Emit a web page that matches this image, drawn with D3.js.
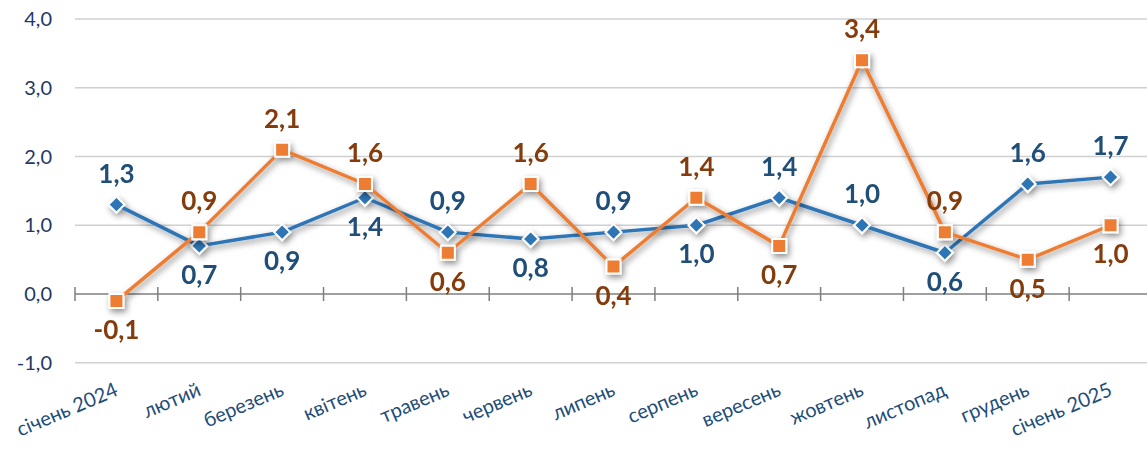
<!DOCTYPE html>
<meta charset="utf-8">
<style>
body { margin: 0; background: #fff; }
svg { font-family: Lato, "Open Sans", sans-serif; }
.grid line { stroke: #d0d0d0; stroke-width: 1.3px; }
.zero { stroke: #7f7f7f; stroke-width: 1.5px; }
.ylab { fill: #1f3864; font-size: 20px; }
.xlab { fill: #1f4e79; font-size: 20px; }
.lblA { fill: #1f4e79; font-size: 26px; font-weight: bold; }
.lblB { fill: #843c0c; font-size: 26px; font-weight: bold; }
</style>
<body>
<script src="https://cdn.jsdelivr.net/npm/d3@7"></script>
<script>
var width = 1147,
    height = 450;

var months = ["січень 2024", "лютий", "березень", "квітень", "травень", "червень",
  "липень", "серпень", "вересень", "жовтень", "листопад", "грудень", "січень 2025"];
var seriesA = [1.3, 0.7, 0.9, 1.4, 0.9, 0.8, 0.9, 1.0, 1.4, 1.0, 0.6, 1.6, 1.7];
var seriesB = [-0.1, 0.9, 2.1, 1.6, 0.6, 1.6, 0.4, 1.4, 0.7, 3.4, 0.9, 0.5, 1.0];
// label above (1) or below (-1) the point
var posA = [1, -1, -1, -1, 1, -1, 1, -1, 1, 1, -1, 1, 1];
var posB = [-1, 1, 1, 1, -1, 1, -1, 1, -1, 1, 1, -1, -1];
var yTicks = [-1, 0, 1, 2, 3, 4];

var fmt = function(v) { return d3.format(".1f")(v).replace(".", ",").replace("−", "-"); };

var x = d3.scaleBand().domain(months).range([75, 1152]);
var y = d3.scaleLinear().domain([-1, 4]).range([362.75, 19]);

var svg = d3.select("body").append("svg")
    .attr("width", width)
    .attr("height", height);

var defs = svg.append("defs");
var f = defs.append("filter").attr("id", "shadow")
    .attr("x", "-50%").attr("y", "-50%").attr("width", "200%").attr("height", "200%");
f.append("feDropShadow")
    .attr("dx", 2).attr("dy", 3).attr("stdDeviation", 3)
    .attr("flood-color", "#000").attr("flood-opacity", 0.45);

// gridlines
svg.append("g").attr("class", "grid")
  .selectAll("line")
  .data(yTicks.filter(function(d) { return d !== 0; }))
  .enter().append("line")
    .attr("x1", 75).attr("x2", width)
    .attr("y1", function(d) { return y(d); })
    .attr("y2", function(d) { return y(d); });

// y labels
svg.append("g").selectAll("text")
  .data(yTicks)
  .enter().append("text")
    .attr("class", "ylab")
    .attr("x", 52)
    .attr("y", function(d) { return y(d); })
    .attr("dy", "0.35em")
    .attr("text-anchor", "end")
    .text(fmt);

// zero axis with cross ticks
svg.append("line").attr("class", "zero")
    .attr("x1", 75).attr("x2", width)
    .attr("y1", y(0)).attr("y2", y(0));
var bounds = months.map(function(m) { return x(m); });
svg.append("g").selectAll("line")
  .data(bounds)
  .enter().append("line")
    .attr("class", "zero")
    .attr("x1", function(d) { return d; }).attr("x2", function(d) { return d; })
    .attr("y1", y(0) - 7).attr("y2", y(0) + 7);

// x labels
svg.append("g").selectAll("text")
  .data(months)
  .enter().append("text")
    .attr("class", "xlab")
    .attr("transform", function(d) {
      return "translate(" + (x(d) + x.bandwidth() / 2 - 3) + ",381) rotate(-23)";
    })
    .attr("text-anchor", "end")
    .attr("dy", "0.75em")
    .text(function(d) { return d; });

var line = d3.line()
    .x(function(d, i) { return x(months[i]) + x.bandwidth() / 2; })
    .y(function(d) { return y(d); });

var diamond = "M0,-8L8,0L0,8L-8,0Z";
var square = "M-7,-7H7V7H-7Z";

function drawSeries(vals, color, shape) {
  var g = svg.append("g").attr("filter", "url(#shadow)");
  g.append("path")
    .datum(vals)
    .attr("fill", "none")
    .attr("stroke", color)
    .attr("stroke-width", 3.5)
    .attr("stroke-linejoin", "round")
    .attr("d", line);
  g.selectAll(".m")
    .data(vals)
    .enter().append("path")
      .attr("d", shape)
      .attr("transform", function(d, i) {
        return "translate(" + (x(months[i]) + x.bandwidth() / 2) + "," + y(d) + ")";
      })
      .attr("fill", color)
      .attr("stroke", "#fff")
      .attr("stroke-width", 2);
  return g;
}

function drawLabels(vals, cls, pos) {
  svg.append("g").selectAll("text")
    .data(vals)
    .enter().append("text")
      .attr("class", cls)
      .attr("text-anchor", "middle")
      .attr("x", function(d, i) { return x(months[i]) + x.bandwidth() / 2; })
      .attr("y", function(d, i) { return pos[i] > 0 ? y(d) - 22 : y(d) + 38; })
      .text(fmt);
}

drawSeries(seriesA, "#2e75b6", diamond);
drawSeries(seriesB, "#ed7d31", square);
drawLabels(seriesA, "lblA", posA);
drawLabels(seriesB, "lblB", posB);
</script>
</body>
